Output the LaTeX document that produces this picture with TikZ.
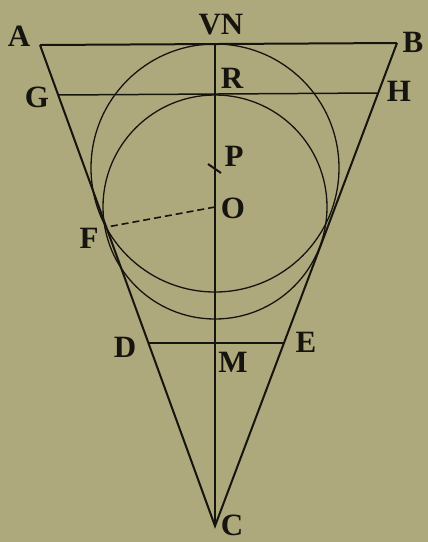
\documentclass[tikz,border=0pt]{standalone}
\usepackage{fontspec}
\setmainfont{Liberation Serif}
\definecolor{paper}{RGB}{174,169,125}
\definecolor{ink}{RGB}{22,20,14}
\begin{document}
\begin{tikzpicture}[x=1pt,y=-1pt,
  lbl/.style={inner sep=0pt,text=ink,font=\fontsize{31}{31}\selectfont\bfseries},
  side/.style={draw=ink,line width=2pt},
  thin/.style={draw=ink,line width=1.5pt},
  circ/.style={draw=ink,line width=1.3pt},
  dashline/.style={draw=ink,line width=1.6pt,dash pattern=on 7pt off 4pt}]
\fill[paper] (0,0) rectangle (428,542);
\useasboundingbox (0,0) rectangle (428,542);
% points
\coordinate (A) at (40,45);
\coordinate (B) at (397,43);
\coordinate (C) at (215,526);
\coordinate (G) at (58,95);
\coordinate (H) at (377,93);
\coordinate (D) at (148,343);
\coordinate (E) at (284,343);
\coordinate (V) at (215,44);
\coordinate (O) at (215,207);
\coordinate (P) at (215,168);
\coordinate (F) at (107,227);
\coordinate (T1) at (208,164);
\coordinate (T2) at (221,173);
% circles
\draw[circ] (P) circle[radius=124pt];
\draw[circ] (O) circle[radius=112pt];
% lines
\draw[side] (A) -- (B);
\draw[side] (A) -- (C) -- (B);
\draw[thin] (G) -- (H);
\draw[thin] (D) -- (E);
\draw[thin] (V) -- (C);
\draw[side] (T1) -- (T2);
\draw[dashline] (O) -- (F);
% labels
\node[lbl] (lA) at (19,36) {A};
\node[lbl] (lVN) at (221,25) {VN};
\node[lbl] (lB) at (413,42) {B};
\node[lbl] (lG) at (37,97) {G};
\node[lbl] (lR) at (232,78) {R};
\node[lbl] (lH) at (399,91) {H};
\node[lbl] (lP) at (234,156) {P};
\node[lbl] (lO) at (233,208) {O};
\node[lbl] (lF) at (89,238) {F};
\node[lbl] (lD) at (125,347) {D};
\node[lbl] (lM) at (233,362) {M};
\node[lbl] (lE) at (306,342) {E};
\node[lbl] (lC) at (232,525) {C};
\end{tikzpicture}
\end{document}
